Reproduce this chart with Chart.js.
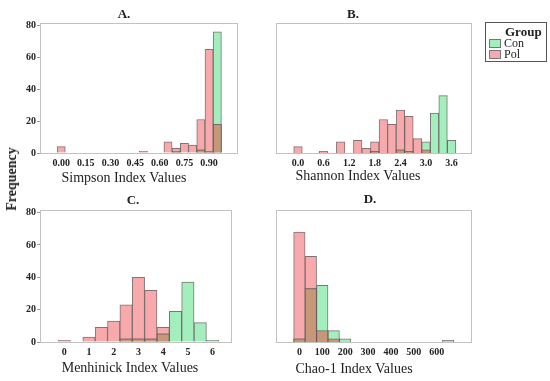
<!DOCTYPE html>
<html>
<head>
<meta charset="utf-8">
<script src="https://cdn.jsdelivr.net/npm/chart.js@4.4.1/dist/chart.umd.min.js"></script>
<style>
  body { margin: 0; background: #fff; }
  #wrap { position: relative; width: 550px; height: 381px; font-family: "Liberation Serif", serif; color: #222; }
  #wrap canvas { position: absolute; left: 0; top: 0; }
  .lbl { position: absolute; transform: translate(-50%, -50%); white-space: nowrap; }
  .ptitle { font-weight: bold; font-size: 13px; }
  .xtitle { font-size: 14px; }
  #freq { font-weight: bold; font-size: 14px; transform: translate(-50%, -50%) rotate(-90deg); }
  #legend { position: absolute; left: 485px; top: 22px; width: 60px; height: 38px; border: 1px solid #555; font-size: 12px; }
  #legend .head { position: absolute; left: 19px; top: 1px; font-weight: bold; font-size: 13px; }
  #legend .sw { position: absolute; left: 3px; width: 10px; height: 7px; border: 1px solid #777; }
  #legend .txt { position: absolute; left: 18px; }
</style>
</head>
<body>
<div id="wrap">
  <canvas id="chartA" width="550" height="381"></canvas>
  <canvas id="chartB" width="550" height="381"></canvas>
  <canvas id="chartC" width="550" height="381"></canvas>
  <canvas id="chartD" width="550" height="381"></canvas>

  <div class="lbl ptitle" style="left:124px; top:14px;">A.</div>
  <div class="lbl ptitle" style="left:353px; top:14px;">B.</div>
  <div class="lbl ptitle" style="left:133px; top:200px;">C.</div>
  <div class="lbl ptitle" style="left:370px; top:199px;">D.</div>

  <div class="lbl xtitle" style="left:124px; top:178px;">Simpson Index Values</div>
  <div class="lbl xtitle" style="left:358px; top:176px;">Shannon Index Values</div>
  <div class="lbl xtitle" style="left:130px; top:368px;">Menhinick Index Values</div>
  <div class="lbl xtitle" style="left:354px; top:369px;">Chao-1 Index Values</div>

  <div class="lbl" id="freq" style="left:12px; top:179px;">Frequency</div>

  <div id="legend">
    <div class="head">Group</div>
    <div class="sw" style="top:16px; background:#a3eebd;"></div>
    <div class="txt" style="top:13px;">Con</div>
    <div class="sw" style="top:27px; background:#f8a9ab;"></div>
    <div class="txt" style="top:24px;">Pol</div>
  </div>
</div>

<script>
const yTicks = [0, 20, 40, 60, 80];

const simpsonBins = [0, 0.05, 0.1, 0.15, 0.2, 0.25, 0.3, 0.35, 0.4, 0.45, 0.5, 0.55, 0.6, 0.65, 0.7, 0.75, 0.8, 0.85, 0.9, 0.95];
const simpsonCon = [0, 0, 0, 0, 0, 0, 0, 0, 0, 0, 0, 0, 0, 0, 1, 0, 0, 2, 1, 76];
const simpsonPol = [4, 0, 0, 0, 0, 0, 0, 0, 0, 0, 1, 0, 0, 7, 3, 6, 5, 21, 65, 18];
const simpsonTicks = [0, 0.15, 0.3, 0.45, 0.6, 0.75, 0.9];

const shannonBins = [0, 0.2, 0.4, 0.6, 0.8, 1.0, 1.2, 1.4, 1.6, 1.8, 2.0, 2.2, 2.4, 2.6, 2.8, 3.0, 3.2, 3.4, 3.6];
const shannonCon = [0, 0, 0, 0, 0, 0, 0, 0, 0, 1, 0, 0, 2, 1, 0, 7, 25, 36, 8];
const shannonPol = [4, 0, 0, 1, 0, 7, 0, 8, 3, 7, 21, 18, 27, 23, 9, 2, 0, 0, 0];
const shannonTicks = [0, 0.6, 1.2, 1.8, 2.4, 3.0, 3.6];

const menhinickBins = [0, 0.5, 1, 1.5, 2, 2.5, 3, 3.5, 4, 4.5, 5, 5.5, 6];
const menhinickCon = [0, 0, 0, 0, 0, 2, 2, 2, 5, 19, 37, 12, 1];
const menhinickPol = [1, 0, 3, 9, 13, 23, 40, 32, 9, 0, 0, 0, 0];
const menhinickTicks = [0, 1, 2, 3, 4, 5, 6];

const chaoBins = [0, 50, 100, 150, 200, 250, 300, 350, 400, 450, 500, 550, 600, 650];
const chaoCon = [2, 33, 35, 7, 2, 0, 0, 0, 0, 0, 0, 0, 0, 1];
const chaoPol = [68, 53, 7, 2, 0, 0, 0, 0, 0, 0, 0, 0, 0, 0];
const chaoTicks = [0, 100, 200, 300, 400, 500, 600];

const conColor = "#a3eebd";
const polColor = "#f8a9ab";
const bothColor = "#c79877";
const edgeColor = "rgba(105, 90, 90, 0.85)";
const fontFamily = "'Liberation Serif', serif";

const framePlugin = {
    id: "frame",
    afterDraw(chart) {
        const { ctx, chartArea: a } = chart;
        ctx.save();
        ctx.strokeStyle = "#c2c2c2";
        ctx.lineWidth = 1;
        ctx.strokeRect(Math.round(a.left) + 0.5, Math.round(a.top) + 0.5,
            Math.round(a.right - a.left) - 1, Math.round(a.bottom - a.top));
        ctx.restore();
    },
};

const toPoints = (bins, values) => bins.map((b, i) => ({ x: b, y: values[i] }));

const makePanel = (id, bins, con, pol, ticks, digits, xMin, xMax, box, showY) => {
    const both = con.map((c, i) => Math.min(c, pol[i]));
    const barStyle = {
        grouped: false,
        barPercentage: 1,
        categoryPercentage: 1,
        borderWidth: 1,
        borderColor: edgeColor,
    };

    new Chart(document.getElementById(id), {
        type: "bar",
        data: {
            datasets: [
                { label: "Both", data: toPoints(bins, both), backgroundColor: bothColor, ...barStyle },
                { label: "Con", data: toPoints(bins, con), backgroundColor: conColor, ...barStyle },
                { label: "Pol", data: toPoints(bins, pol), backgroundColor: polColor, ...barStyle },
            ],
        },
        options: {
            responsive: false,
            animation: false,
            layout: {
                padding: {
                    left: showY ? box.left - 40 : box.left,
                    top: box.top,
                    right: 550 - box.right,
                    bottom: 381 - box.bottom - 20,
                },
            },
            plugins: { legend: { display: false }, tooltip: { enabled: false } },
            scales: {
                x: {
                    type: "linear",
                    min: xMin,
                    max: xMax,
                    afterBuildTicks: (s) => { s.ticks = ticks.map((v) => ({ value: v })); },
                    afterFit: (s) => { s.height = 20; },
                    grid: { display: false, drawTicks: false },
                    border: { display: false },
                    ticks: {
                        padding: 4,
                        autoSkip: false,
                        maxRotation: 0,
                        color: "#222",
                        font: { family: fontFamily, size: 10, weight: "bold" },
                        callback: (v) => Number(v).toFixed(digits),
                    },
                },
                y: {
                    min: 0,
                    max: 81.6,
                    display: showY,
                    afterBuildTicks: (s) => { s.ticks = yTicks.map((v) => ({ value: v })); },
                    afterFit: (s) => { s.width = showY ? 40 : 0; },
                    grid: { drawOnChartArea: false, tickLength: 3, color: "#9a9a9a" },
                    border: { display: false },
                    ticks: {
                        padding: 1,
                        color: "#222",
                        font: { family: fontFamily, size: 10, weight: "bold" },
                    },
                },
            },
        },
        plugins: [framePlugin],
    });
};

makePanel("chartA", simpsonBins, simpsonCon, simpsonPol, simpsonTicks, 2, -0.043, 0.99,
    { left: 40, right: 238, top: 23, bottom: 153 }, true);
makePanel("chartB", shannonBins, shannonCon, shannonPol, shannonTicks, 1, -0.187, 3.75,
    { left: 276, right: 472, top: 23, bottom: 153 }, false);
makePanel("chartC", menhinickBins, menhinickCon, menhinickPol, menhinickTicks, 0, -0.427, 6.23,
    { left: 40, right: 232, top: 210, bottom: 342 }, true);
makePanel("chartD", chaoBins, chaoCon, chaoPol, chaoTicks, 0, -41, 693,
    { left: 276, right: 472, top: 210, bottom: 342 }, false);
</script>
</body>
</html>
